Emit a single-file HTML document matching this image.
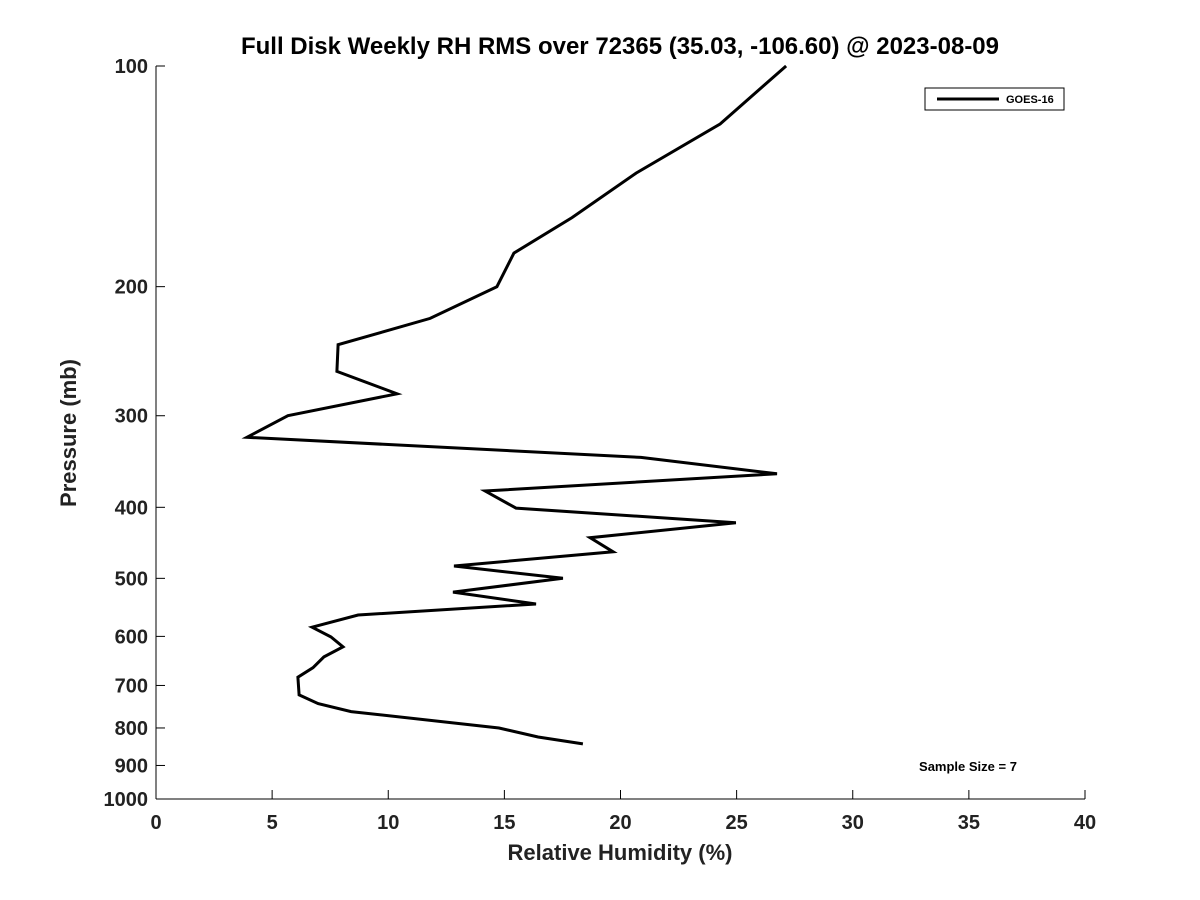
<!DOCTYPE html>
<html><head><meta charset="utf-8"><style>
body{margin:0;background:#fff;}
svg{display:block;font-family:"Liberation Sans","DejaVu Sans",sans-serif;}
</style></head><body>
<svg id="c" width="1200" height="900">
<text x="620" y="54" text-anchor="middle" font-size="24" font-weight="bold" fill="#000">Full Disk Weekly RH RMS over 72365 (35.03, -106.60) @ 2023-08-09</text>
<g id="axes"></g>
<path id="line" fill="none" stroke="#000" stroke-width="3"/>
<g>
<rect x="925" y="88" width="139" height="22" fill="#fff" stroke="#000" stroke-width="1"/>
<line x1="937" y1="99" x2="999" y2="99" stroke="#000" stroke-width="3"/>
<text x="1006" y="103" font-size="11" font-weight="bold">GOES-16</text>
</g>
<text x="968" y="771" text-anchor="middle" font-size="13" font-weight="bold">Sample Size = 7</text>
<text x="620" y="860" text-anchor="middle" font-size="22" font-weight="bold" fill="#222">Relative Humidity (%)</text>
<text transform="translate(76,433) rotate(-90)" text-anchor="middle" font-size="22" font-weight="bold" fill="#222">Pressure (mb)</text>
</svg>
<script>
const rhValues=[27.13,24.29,20.67,17.91,15.41,14.68,11.80,7.84,7.79,10.38,5.68,3.92,20.88,26.74,14.17,15.50,24.97,18.69,19.68,12.83,17.52,12.79,16.36,8.70,6.72,7.53,8.05,7.23,6.76,6.11,6.16,6.98,8.40,14.77,16.45,18.38];
const pressures=[100,120,140,161,180,200,221,240,261,280,300,321,342,360,380,401,420,440,460,481,500,522,542,561,583,601,620,640,662,682,721,741,760,800,823,841];
const xTicks=[0,5,10,15,20,25,30,35,40];
const yTicks=[100,200,300,400,500,600,700,800,900,1000];
const X0=156,X1=1085,Y0=66,Y1=799;
const xs=v=>X0+(v-0)/(40-0)*(X1-X0);
const ys=p=>Y0+(Math.log10(p)-2)*(Y1-Y0);
const ns="http://www.w3.org/2000/svg";
const ax=document.getElementById('axes');
function mk(t,a){const e=document.createElementNS(ns,t);for(const k in a)e.setAttribute(k,a[k]);ax.appendChild(e);return e;}
let e=mk('line',{x1:X0,y1:Y0,x2:X0,y2:Y1,stroke:'#000','stroke-width':1});


e=mk('line',{x1:X0,y1:Y1,x2:X1,y2:Y1,stroke:'#000','stroke-width':1});


xTicks.forEach(v=>{
 const t=mk('line',{x1:xs(v),y1:Y1,x2:xs(v),y2:Y1-9,stroke:'#000'});
 
 
 const l=mk('text',{x:xs(v),y:Y1+30,'text-anchor':'middle','font-size':20,'font-weight':'bold',fill:'#222'});
 l.textContent=v;
 
 
});
yTicks.forEach(p=>{
 const t=mk('line',{x1:X0,y1:ys(p),x2:X0+9,y2:ys(p),stroke:'#000'});
 
 
 const l=mk('text',{x:148,y:ys(p)+7,'text-anchor':'end','font-size':20,'font-weight':'bold',fill:'#222'});
 l.textContent=p;
 
 
});
document.getElementById('line').setAttribute('d',rhValues.map((v,i)=>(i?'L':'M')+xs(v).toFixed(1)+','+ys(pressures[i]).toFixed(1)).join(''));
</script>
</body></html>
